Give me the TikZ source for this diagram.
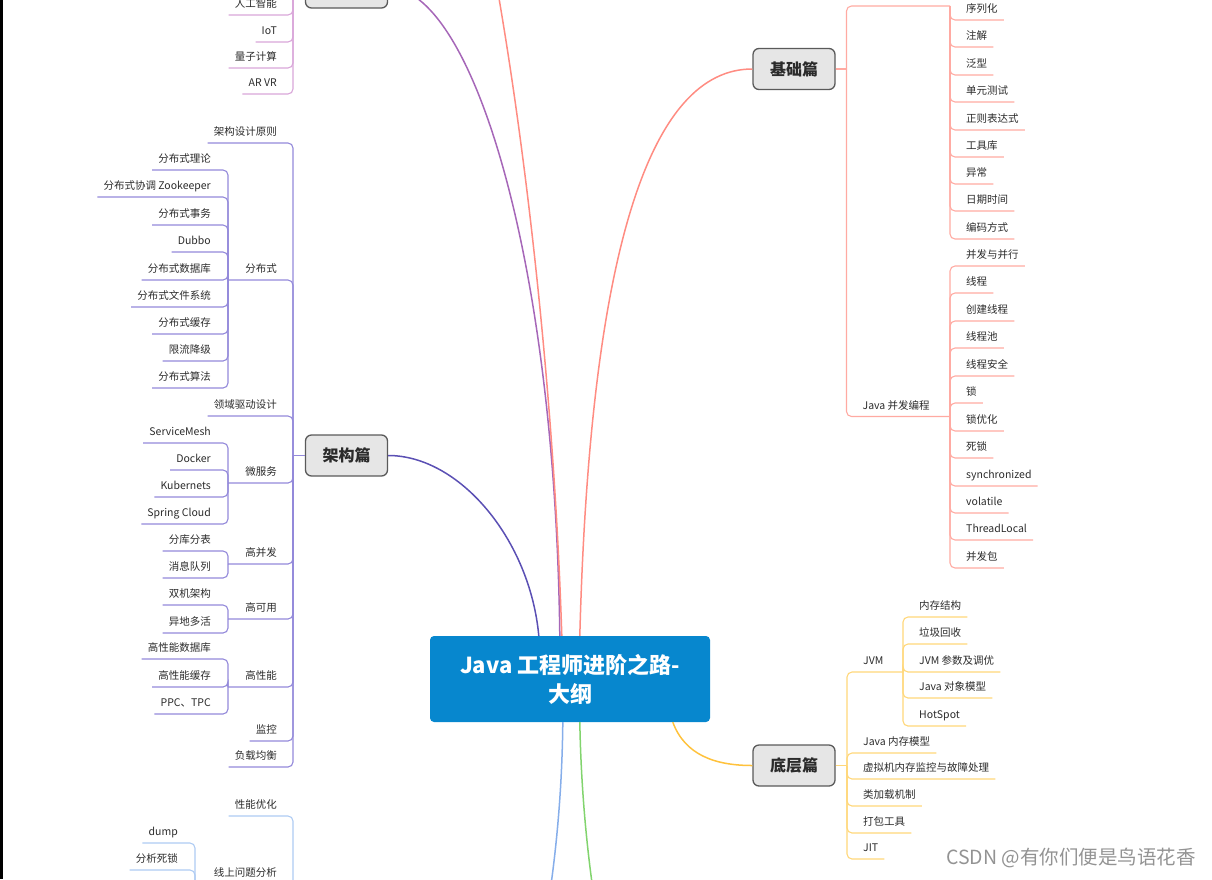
\documentclass[tikz,border=0pt]{standalone}
\usepackage{fontspec}
\setmainfont{Noto Sans CJK SC}
\usepackage{tikz}
\usetikzlibrary{calc}
\usepackage{xcolor}
\definecolor{ink}{HTML}{2B2B2B}
\definecolor{rootblue}{HTML}{0787CE}
\definecolor{boxgray}{HTML}{E6E6E6}
\definecolor{boxline}{HTML}{5A5A5A}
\definecolor{salmon}{HTML}{FF8C82}
\definecolor{salmonlt}{HTML}{FFAAA2}
\definecolor{orchid}{HTML}{A667B8}
\definecolor{orchidlt}{HTML}{D9A6D9}
\definecolor{indigo}{HTML}{5B50B4}
\definecolor{indigolt}{HTML}{9389DA}
\definecolor{amber}{HTML}{FFC23C}
\definecolor{amberlt}{HTML}{FFD77A}
\definecolor{cornblue}{HTML}{86AEEA}
\definecolor{cornbluelt}{HTML}{AECBF3}
\definecolor{leafgreen}{HTML}{82D46E}
\tikzset{
  root/.style={fill=rootblue,rounded corners=4pt,minimum width=280pt,minimum height=86pt,
    text=white,font=\bfseries\fontsize{22}{29}\selectfont,align=center},
  topic/.style={draw=boxline,fill=boxgray,rounded corners=6pt,line width=1.3pt,
    minimum width=82pt,minimum height=41pt,text=ink,font=\bfseries\fontsize{16}{18}\selectfont},
  lbl/.style={text=ink,font=\fontsize{10.5}{12}\selectfont,inner xsep=6pt,inner ysep=7pt,text depth=0pt},
  lft/.style={lbl,anchor=south east},
  rgt/.style={lbl,anchor=south west},
  trunk/.style={line width=1.5pt},
  twig/.style={line width=1.1pt,rounded corners=5pt},
}

\begin{document}
\begin{tikzpicture}[x=1pt,y=-1pt]
  \useasboundingbox (0,0) rectangle (1212,879);
  \clip (0,0) rectangle (1212,879);
  \fill[black] (0,0) rectangle (3,879);

  % root and main topics
  \node[root] (root) at (570,679) {Java 工程师进阶之路-\\大纲};
  \node[topic] (base) at (794,69) {基础篇};
  \node[topic] (low) at (794,765.5) {底层篇};
  \node[topic] (arch) at (346.5,455.5) {架构篇};
  \node[topic] (front) at (346.5,-12.5) {};
  \coordinate (upper) at (388,-330);
  \coordinate (tune) at (388,1230);
  \coordinate (extra) at (753,1230);

  % exits on the root
  \coordinate (rN1) at ([xshift=109pt]root.north west);
  \coordinate (rN2) at ([xshift=130pt]root.north west);
  \coordinate (rN3) at ([xshift=132pt]root.north west);
  \coordinate (rN4) at ([xshift=150pt]root.north west);
  \coordinate (rS1) at ([xshift=133pt]root.south west);
  \coordinate (rS2) at ([xshift=150pt]root.south west);
  \coordinate (rS3) at ([xshift=243pt]root.south west);

  \draw[trunk,indigo] (rN1) .. controls (530,540) and (460,455.5) .. (arch.east);
  \draw[trunk,orchid] (rN2) .. controls (555,250) and (470,-12.5) .. (front.east);
  \draw[trunk,salmon] (rN3) .. controls (548,200) and (462,-330) .. (upper);
  \draw[trunk,salmon] (rN4) .. controls (590,250) and (650,69) .. (base.west);
  \draw[trunk,amber] (rS3) .. controls (685,755) and (715,765.5) .. (low.west);
  \draw[trunk,cornblue] (rS1) .. controls (560,1000) and (470,1230) .. (tune);
  \draw[trunk,leafgreen] (rS2) .. controls (585,1000) and (670,1230) .. (extra);

  % spines
  \coordinate (sArch) at (293,0);
  \coordinate (sDist) at (228,0);
  \coordinate (sTune) at (195,0);
  \coordinate (sBase) at (846.5,0);
  \coordinate (sBase2) at (950,0);
  \coordinate (sLow) at (847,0);
  \coordinate (sJvm) at (903,0);
  \coordinate (jArch) at (arch.west -| sArch);
  \coordinate (jFront) at (front.west -| sArch);
  \coordinate (jTune) at (tune -| sArch);
  \coordinate (jBase) at (base.east -| sBase);
  \coordinate (jLow) at (low.east -| sLow);
  \draw[twig,indigolt] (arch.west) -- (jArch);
  \draw[twig,orchidlt] (front.west) -- (jFront);
  \draw[twig,salmonlt] (base.east) -- (jBase);
  \draw[twig,amberlt] (low.east) -- (jLow);

  % top left
  \foreach \n/\y/\t in {f1/15/人工智能, f2/42/IoT, f3/68/量子计算, f4/94/AR VR} {
    \node[lft] (\n) at (283,\y) {\t};
    \draw[twig,orchidlt] (jFront) |- (\n.south west);
  }

  % 架构篇
  \foreach \n/\y/\t in {a1/143/架构设计原则, a3/416/领域驱动设计, a8/741/监控, a9/767/负载均衡} {
    \node[lft] (\n) at (283,\y) {\t};
    \draw[twig,indigolt] (jArch) |- (\n.south west);
  }
  \foreach \n/\y/\t in {a2/280/分布式, a4/483/微服务, a5/564/高并发, a6/619/高可用, a7/687/高性能} {
    \node[lft] (\n) at (283,\y) {\t};
    \draw[twig,indigolt] (jArch) |- (\n.south -| sDist);
  }
  \foreach \n/\y/\t in {b1/170/分布式理论, b2/197/分布式协调 Zookeeper, b3/225/分布式事务,
      b4/252/Dubbo, b5/280/分布式数据库, b6/307/分布式文件系统, b7/334/分布式缓存,
      b8/361/限流降级, b9/388/分布式算法} {
    \node[lft] (\n) at (217,\y) {\t};
    \draw[twig,indigolt] (a2.south -| sDist) |- (\n.south west);
  }
  \foreach \n/\y/\t in {c1/443/ServiceMesh, c2/470/Docker, c3/497/Kubernets, c4/524/Spring Cloud} {
    \node[lft] (\n) at (217,\y) {\t};
    \draw[twig,indigolt] (a4.south -| sDist) |- (\n.south west);
  }
  \foreach \n/\y/\t in {d1/551/分库分表, d2/578/消息队列} {
    \node[lft] (\n) at (217,\y) {\t};
    \draw[twig,indigolt] (a5.south -| sDist) |- (\n.south west);
  }
  \foreach \n/\y/\t in {e1/605/双机架构, e2/633/异地多活} {
    \node[lft] (\n) at (217,\y) {\t};
    \draw[twig,indigolt] (a6.south -| sDist) |- (\n.south west);
  }
  \foreach \n/\y/\t in {g1/659/高性能数据库, g2/687/高性能缓存, g3/714/PPC、TPC} {
    \node[lft] (\n) at (217,\y) {\t};
    \draw[twig,indigolt] (a7.south -| sDist) |- (\n.south west);
  }

  % bottom left
  \node[lft] (t1) at (283,816) {性能优化};
  \draw[twig,cornbluelt] (jTune) |- (t1.south west);
  \node[lft] (t2) at (283,884) {线上问题分析};
  \draw[twig,cornbluelt] (jTune) |- (t2.south -| sTune);
  \foreach \n/\y/\t in {t3/843/dump, t4/870/分析死锁} {
    \node[lft] (\n) at (184,\y) {\t};
    \draw[twig,cornbluelt] (t2.south -| sTune) |- (\n.south west);
  }

  % 基础篇
  \node[rgt] (k1) at (856.5,6) {Java 基础知识};
  \draw[twig,salmonlt] (jBase) |- (k1.south -| sBase2);
  \node[rgt] (k2) at (856.5,416.5) {Java 并发编程};
  \draw[twig,salmonlt] (jBase) |- (k2.south -| sBase2);
  \foreach \n/\y/\t in {m1/20/序列化, m2/47/注解, m3/75/泛型, m4/102/单元测试, m5/130/正则表达式,
      m6/157/工具库, m7/184/异常, m8/211/日期时间, m9/239/编码方式} {
    \node[rgt] (\n) at (960,\y) {\t};
    \draw[twig,salmonlt] (k1.south -| sBase2) |- (\n.south east);
  }
  \foreach \n/\y/\t in {p1/266/并发与并行, p2/293/线程, p3/321/创建线程, p4/348/线程池, p5/376/线程安全,
      p6/403/锁, p7/431/锁优化, p8/458/死锁, p9/486/synchronized, p10/513/volatile,
      p11/540/ThreadLocal, p12/568/并发包} {
    \node[rgt] (\n) at (960,\y) {\t};
    \draw[twig,salmonlt] (k2.south -| sBase2) |- (\n.south east);
  }

  % 底层篇
  \node[rgt] (v1) at (857,672) {JVM};
  \draw[twig,amberlt] (jLow) |- (v1.south -| sJvm);
  \foreach \n/\y/\t in {v2/753/Java 内存模型, v3/779/虚拟机内存监控与故障处理, v4/806/类加载机制,
      v5/833/打包工具, v6/859/JIT} {
    \node[rgt] (\n) at (857,\y) {\t};
    \draw[twig,amberlt] (jLow) |- (\n.south east);
  }
  \foreach \n/\y/\t in {w1/617/内存结构, w2/644/垃圾回收, w3/672/JVM 参数及调优, w4/698/Java 对象模型,
      w5/726/HotSpot} {
    \node[rgt] (\n) at (913,\y) {\t};
    \draw[twig,amberlt] (v1.south -| sJvm) |- (\n.south east);
  }

  \node[text=gray!85,font=\fontsize{19.5}{22}\selectfont] (mark) at (1071,858) {CSDN @有你们便是鸟语花香};
\end{tikzpicture}
\end{document}
